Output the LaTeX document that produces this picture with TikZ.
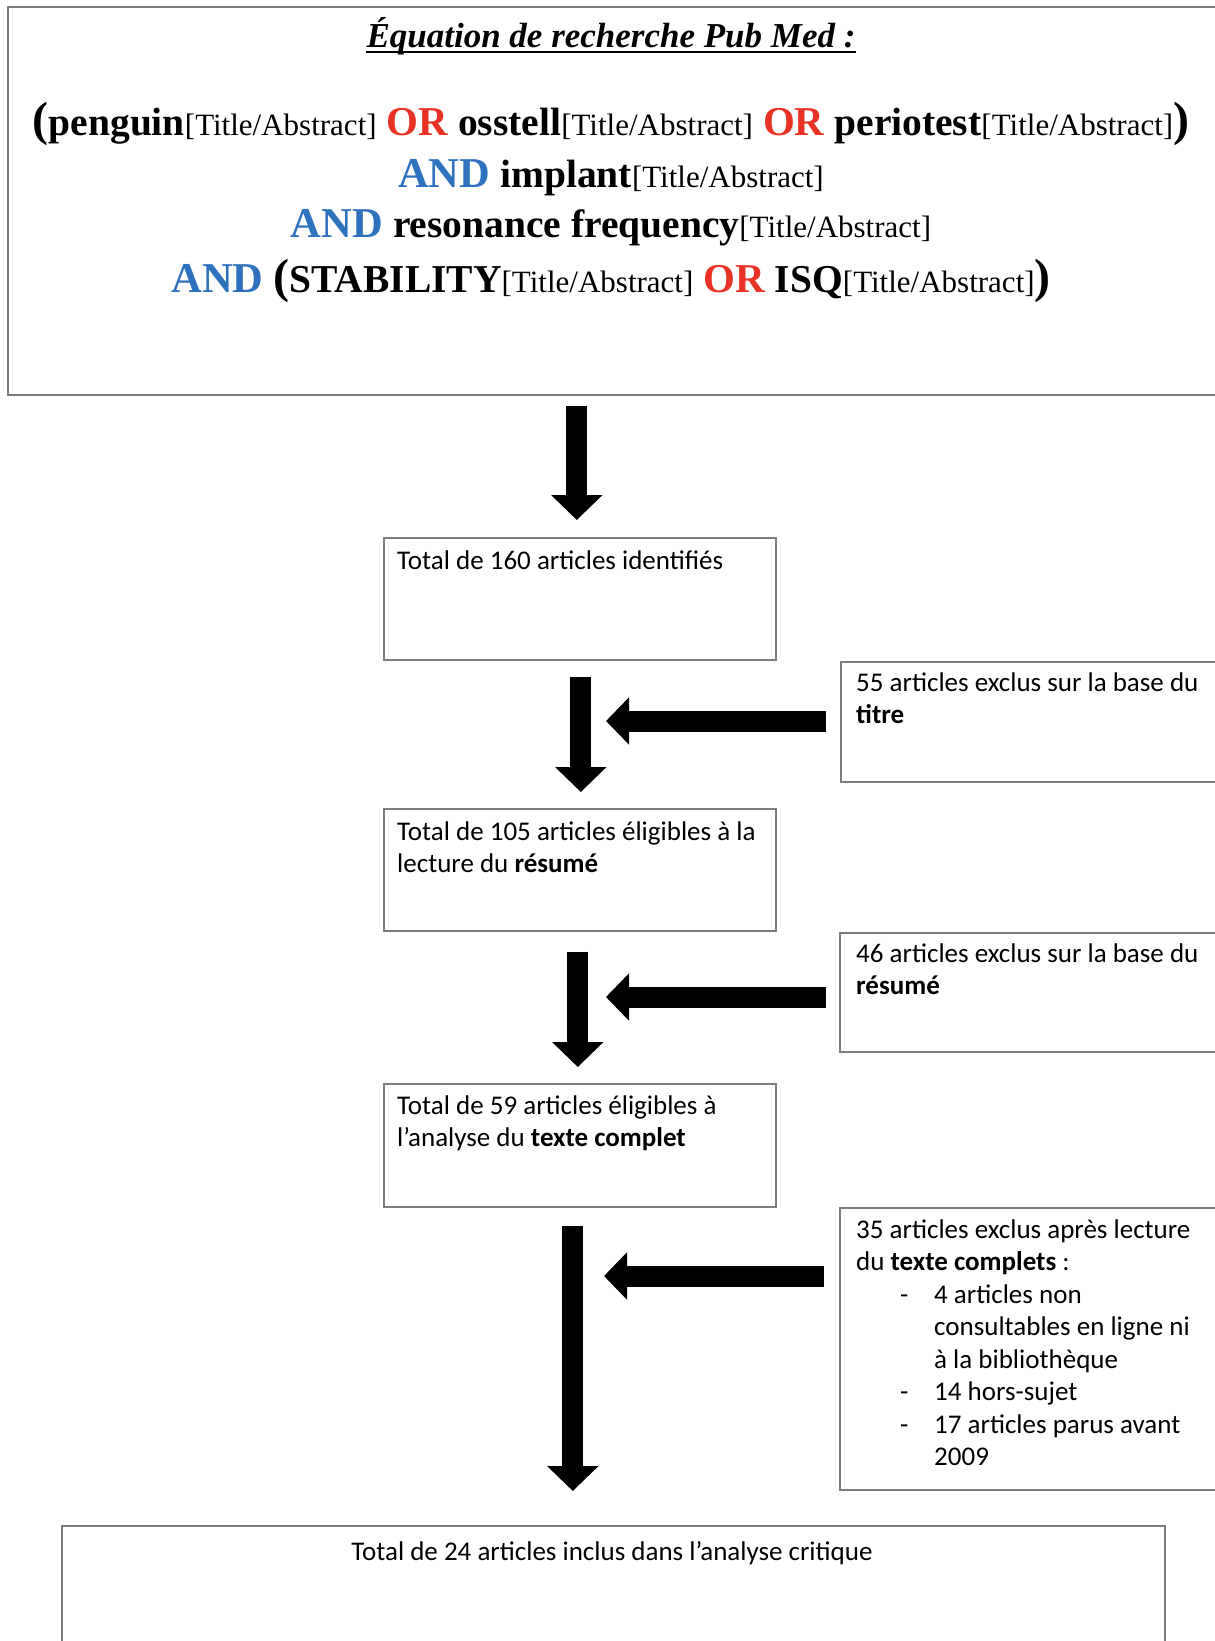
\documentclass[tikz,border=0pt]{standalone}
\usepackage{fontspec}
\setmainfont{Liberation Serif}
\newfontfamily\carlito{Carlito}
\usetikzlibrary{arrows.meta,calc}
\definecolor{orred}{RGB}{231,50,36}
\definecolor{andblue}{RGB}{46,114,190}
\definecolor{boxgray}{RGB}{125,125,125}
\newcommand\kw[1]{{\bfseries\fontsize{39.5}{40}\selectfont #1}}
\newcommand\ta{{\fontsize{31}{31}\selectfont[Title/Abstract]}}
\newcommand\opOR{{\color{orred}\bfseries\fontsize{41}{41}\selectfont OR}}
\newcommand\opAND{{\color{andblue}\bfseries\fontsize{42.5}{42}\selectfont AND}}
\newcommand\lpar{{\bfseries\fontsize{48}{48}\selectfont(}}
\newcommand\rpar{{\bfseries\fontsize{48}{48}\selectfont)}}
\newcommand\gapsp{\hspace{10pt}}
\newcommand\dashitem{\hspace*{44pt}\makebox[34pt][l]{-}}
\newcommand\indentitem{\hspace*{78pt}}
\newcommand\toplines[1]{\begin{tabular}[t]{@{}l@{}}#1\end{tabular}}
\begin{document}
\begin{tikzpicture}[x=1pt,y=-1pt,
  box/.style={draw=boxgray, line width=1.6pt, inner sep=0pt, anchor=north west},
  txt/.style={font=\carlito\fontsize{27}{32.5}\selectfont, inner sep=0pt, anchor=base west},
  eqline/.style={inner sep=0pt, anchor=base},
  vbig/.style={line width=21pt, -{Triangle[width=50pt,length=25pt]}},
  hbig/.style={line width=21pt, -{Triangle[width=46pt,length=23pt]}}
]
\useasboundingbox (0,0) rectangle (1215,1641);
\clip (0,0) rectangle (1215,1641);

% top box
\node[box, minimum width=1240pt, minimum height=388pt] (top) at (7,6) {};
\node[eqline] (title) at (611,47) {\fontsize{35}{35}\selectfont\bfseries\itshape Équation de recherche Pub Med :};
\draw[line width=2.5pt] ([yshift=-5pt]title.base west) -- ([yshift=-5pt]title.base east);
\node[eqline] (l1) at (611,135) {\lpar\kw{penguin}\ta\gapsp\opOR\gapsp\kw{osstell}\ta\gapsp\opOR\gapsp\kw{periotest}\ta\rpar};
\node[eqline] (l2) at (611,187) {\opAND\gapsp\kw{implant}\ta};
\node[eqline] (l3) at (611,237) {\opAND\gapsp\kw{resonance frequency}\ta};
\node[eqline] (l4) at (611,292) {\opAND\gapsp\lpar\kw{STABILITY}\ta\gapsp\opOR\gapsp\kw{ISQ}\ta\rpar};

% boxes
\node[box, minimum width=392pt, minimum height=122pt] (b1) at (383,537) {};
\node[box, minimum width=392pt, minimum height=122pt] (b2) at (383,808) {};
\node[box, minimum width=392pt, minimum height=123pt] (b3) at (383,1083) {};
\node[box, minimum width=1103pt, minimum height=140pt] (b4) at (61,1525) {};
\node[box, minimum width=400pt, minimum height=120pt] (e1) at (840,661) {};
\node[box, minimum width=400pt, minimum height=119pt] (e2) at (839,932) {};
\node[box, minimum width=400pt, minimum height=282pt] (e3) at (839,1207) {};

% texts
\node[txt] (t1) at ([xshift=14pt,yshift=-32pt]b1.north west) {Total de 160 articles identifiés};
\node[txt] (t2) at ([xshift=14pt,yshift=-32pt]b2.north west) {\toplines{Total de 105 articles éligibles à la\\lecture du \textbf{résumé}}};
\node[txt] (t3) at ([xshift=14pt,yshift=-31pt]b3.north west) {\toplines{Total de 59 articles éligibles à\\l’analyse du \textbf{texte complet}}};
\node[txt, anchor=base] (t4) at (612,1560) {Total de 24 articles inclus dans l’analyse critique};
\node[txt] (s1) at ([xshift=16pt,yshift=-30pt]e1.north west) {\toplines{55 articles exclus sur la base du\\\textbf{titre}}};
\node[txt] (s2) at ([xshift=17pt,yshift=-30pt]e2.north west) {\toplines{46 articles exclus sur la base du\\\textbf{résumé}}};
\node[txt] (s3) at ([xshift=17pt,yshift=-31pt]e3.north west) {\toplines{35 articles exclus après lecture\\du \textbf{texte complets} :\\\dashitem 4 articles non\\\indentitem consultables en ligne ni\\\indentitem à la bibliothèque\\\dashitem 14 hors-sujet\\\dashitem 17 articles parus avant\\\indentitem 2009}};

% vertical arrows
\draw[vbig, shorten <=10pt, shorten >=17pt] ([xshift=-3pt]top.south -| b1.north) -- ([xshift=-3pt]b1.north);
\draw[vbig, shorten <=16pt, shorten >=16pt] ([xshift=1pt]b1.south) -- ([xshift=1pt]b2.north);
\draw[vbig, shorten <=20pt, shorten >=16pt] ([xshift=-2pt]b2.south) -- ([xshift=-2pt]b3.north);
\draw[vbig, shorten <=18pt, shorten >=34pt] ([xshift=-7pt]b3.south) -- ([xshift=-7pt]b3.south |- b4.north);

% horizontal arrows
\coordinate (h1) at (606,721);
\coordinate (h2) at (606,997);
\coordinate (h3) at (604,1276);
\draw[hbig, shorten <=14pt] (e1.west |- h1) -- (h1);
\draw[hbig, shorten <=13pt] (e2.west |- h2) -- (h2);
\draw[hbig, shorten <=15pt] (e3.west |- h3) -- (h3);
\end{tikzpicture}
\end{document}
